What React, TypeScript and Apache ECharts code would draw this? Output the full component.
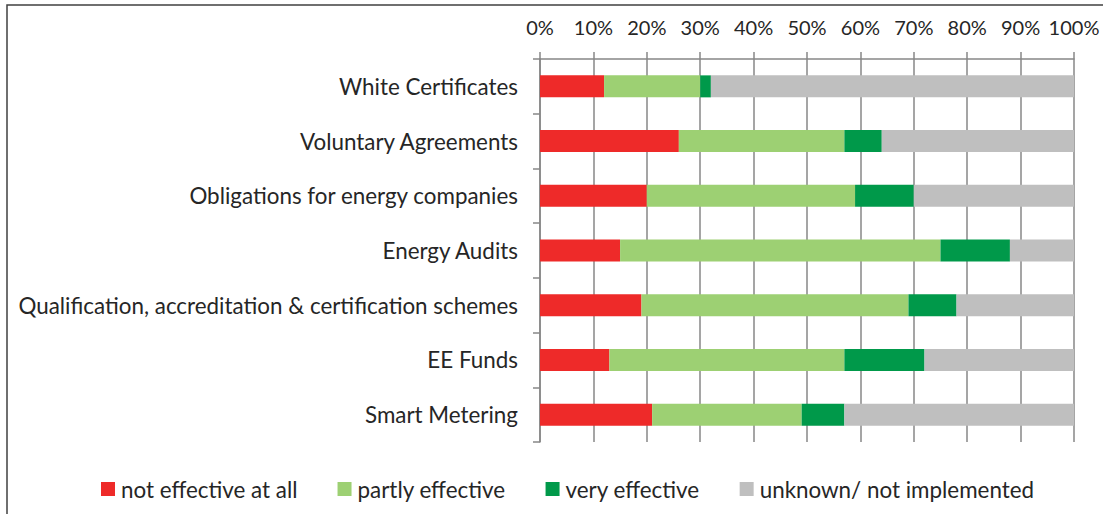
import React, { useEffect, useRef } from "react";
import * as echarts from "echarts";

const categories = [
  "White Certificates",
  "Voluntary Agreements",
  "Obligations for energy companies",
  "Energy Audits",
  "Qualification, accreditation & certification schemes",
  "EE Funds",
  "Smart Metering",
];

const notEffective = [12, 26, 20, 15, 19, 13, 21];
const partlyEffective = [18, 31, 39, 60, 50, 44, 28];
const veryEffective = [2, 7, 11, 13, 9, 15, 8];
const unknownNotImpl = [68, 36, 30, 12, 22, 28, 43];

const seriesNames = [
  "not effective at all",
  "partly effective",
  "very effective",
  "unknown/ not implemented",
];
const colors = ["#EE2A29", "#9DD073", "#00994A", "#BFBFBF"];

const FONT = "Lato, 'Open Sans', sans-serif";
const TEXT = "#262626";

export default function App() {
  const ref = useRef<HTMLDivElement>(null);
  useEffect(() => {
    document.body.style.margin = "0";
    const chart = echarts.init(ref.current!, undefined, { renderer: "svg" });
    const dataSets = [notEffective, partlyEffective, veryEffective, unknownNotImpl];
    chart.setOption({
      animation: false,
      textStyle: { fontFamily: FONT },
      color: colors,
      grid: { left: 540, right: 29, top: 59, bottom: 72, containLabel: false },
      legend: {
        bottom: 9,
        left: 96,
        itemWidth: 14,
        itemHeight: 14,
        itemGap: 40,
        icon: "rect",
        textStyle: { fontFamily: FONT, fontSize: 22.4, color: TEXT, padding: [0, 0, 0, 1] },
        data: seriesNames,
      },
      xAxis: {
        type: "value",
        position: "top",
        min: 0,
        max: 100,
        interval: 10,
        axisLine: { show: true, lineStyle: { color: "#878787", width: 1.5 } },
        axisTick: { show: true, length: 7, lineStyle: { color: "#878787", width: 1.5 } },
        splitLine: { show: true, lineStyle: { color: "#878787", width: 1.5 } },
        axisLabel: {
          formatter: "{value}%",
          fontFamily: FONT,
          fontSize: 20,
          color: TEXT,
          margin: 22,
        },
      },
      yAxis: {
        type: "category",
        inverse: true,
        data: categories,
        axisLine: { show: true, lineStyle: { color: "#878787", width: 1.5 } },
        axisTick: { show: true, length: 7, lineStyle: { color: "#878787", width: 1.5 } },
        axisLabel: {
          fontFamily: FONT,
          fontSize: 22.4,
          color: TEXT,
          margin: 22,
        },
      },
      graphic: [
        {
          type: "rect",
          shape: { x: 7, y: 5, width: 1200, height: 600 },
          style: { fill: "none", stroke: "#404040", lineWidth: 1.5 },
          silent: true,
          z: -1,
        },
      ],
      series: seriesNames.map((name, i) => ({
        name,
        type: "bar",
        stack: "total",
        barWidth: 22,
        data: dataSets[i],
        itemStyle: { color: colors[i] },
      })),
    });
    return () => chart.dispose();
  }, []);
  return <div ref={ref} style={{ width: 1103, height: 514 }} />;
}
